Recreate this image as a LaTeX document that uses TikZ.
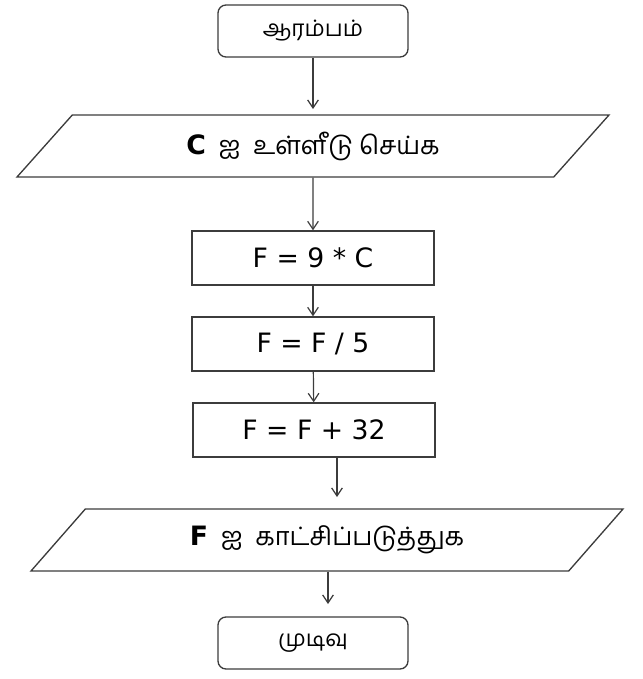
\documentclass[tikz,border=0pt]{standalone}
\usepackage{fontspec}
\usepackage{tikz}
\usetikzlibrary{arrows.meta, shapes.geometric}
\setmainfont{DejaVu Sans}
\newfontfamily\tamil[Script=Tamil]{Hind Madurai}
\definecolor{flowline}{RGB}{60,60,60}

\begin{document}
\begin{tikzpicture}[x=0.75pt, y=-0.75pt,
  term/.style={rectangle, rounded corners=6pt, draw=flowline, line width=1pt, minimum width=142.5pt, minimum height=39pt, inner sep=0pt, font=\tamil\fontsize{17}{20}\selectfont},
  proc/.style={rectangle, draw=flowline, line width=1pt, minimum width=181.5pt, minimum height=40.5pt, inner sep=0pt, font=\fontsize{20}{24}\selectfont},
  io/.style={trapezium, trapezium left angle=27.5, trapezium right angle=152.5, trapezium stretches body, draw=flowline, line width=1pt, minimum height=46.5pt, minimum width=444pt, inner sep=0pt, font=\tamil\fontsize{19}{22}\selectfont},
  arr/.style={-{Straight Barb[length=6pt, width=8pt]}, flowline, line width=0.9pt}
]
\useasboundingbox (0,0) rectangle (643,679);
\node[term] (start) at (313,31) {ஆரம்பம்};
\node[io] (inC) at (313,146) {{\rmfamily\bfseries\fontsize{20}{24}\selectfont C}\enspace ஐ\enspace உள்ளீடு செய்க};
\node[proc] (mul) at (313,258) {F = 9 * C};
\node[proc] (div) at (313,344) {F = F / 5};
\node[proc] (add) at (314,430) {F = F + 32};
\node[io] (outF) at (327,540) {{\rmfamily\bfseries\fontsize{20}{24}\selectfont F}\enspace ஐ\enspace காட்சிப்படுத்துக};
\node[term] (stop) at (313,643) {முடிவு};

\coordinate (toIn) at (313,109);
\coordinate (toOut) at (337,497);
\coordinate (toStop) at (328,604);

\draw[arr] (start) -- (toIn);
\draw[arr] (inC) -- (mul);
\draw[arr] (mul) -- (div);
\draw[arr] (div) -- (add);
\draw[arr] (add.south -| toOut) -- (toOut);
\draw[arr] (outF.south -| toStop) -- (toStop);
\end{tikzpicture}
\end{document}
